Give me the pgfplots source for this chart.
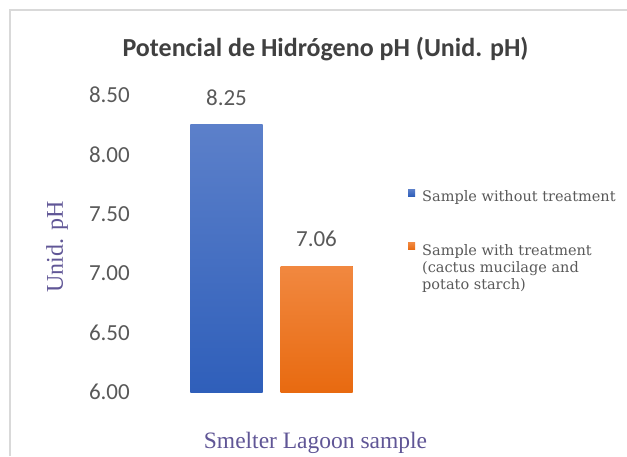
\documentclass[border=0pt]{standalone}
\usepackage{pgfplots}
\pgfplotsset{compat=1.18}
\usepackage{fontspec}
\setmainfont{Liberation Serif}
\newfontfamily\carlito{Carlito}
\newfontfamily\dejaserif{DejaVu Serif}

\definecolor{titlegray}{RGB}{64,64,64}
\definecolor{tickgray}{RGB}{89,89,89}
\definecolor{labelpurple}{RGB}{96,86,150}
\definecolor{framegray}{RGB}{217,217,217}
\definecolor{blueTop}{RGB}{92,128,202}
\definecolor{blueBot}{RGB}{47,95,186}
\definecolor{orTop}{RGB}{241,136,64}
\definecolor{orBot}{RGB}{232,106,16}

\begin{document}
\begin{tikzpicture}[x=1pt,y=1pt]
\path[use as bounding box] (0,0) rectangle (627,456);
\draw[framegray, line width=1.2pt] (10,0) -- (10,446) -- (627,446);

\begin{axis}[
  at={(140pt,64pt)}, anchor=south west,
  scale only axis, width=263pt, height=309pt,
  xmin=-1, xmax=1, ymin=6, ymax=8.6,
  ybar=18pt, bar width=72pt,
  xtick=\empty,
  ytick={6,6.5,7,7.5,8,8.5},
  axis line style={draw=none},
  tick style={draw=none},
  /pgf/number format/assume math mode=true,
  yticklabel style={font=\carlito\fontsize{23}{23}\selectfont, text=tickgray,
    inner sep=0pt, xshift=-10pt,
    /pgf/number format/fixed, /pgf/number format/fixed zerofill,
    /pgf/number format/precision=2},
  nodes near coords,
  every node near coord/.append style={font=\carlito\fontsize{23}{23}\selectfont,
    text=tickgray, inner sep=0pt, yshift=19pt},
  legend style={at={(1.019,0.657)}, anchor=north west, draw=none, fill=none,
    inner sep=0pt, column sep=7pt, row sep=40pt,
    font=\dejaserif\fontsize{14.5}{17}\selectfont, text=tickgray,
    nodes={inner sep=0pt}},
  legend cell align=left,
]
\addplot[draw=none, fill=blueBot, top color=blueTop, bottom color=blueBot,
  legend image code/.code={\fill[blueBot] (0pt,0.3pt) rectangle (7pt,7.3pt);}]
  coordinates {(0,8.25)};
\addlegendentry{Sample without treatment}
\addplot[draw=none, fill=orBot, top color=orTop, bottom color=orBot,
  legend image code/.code={\fill[orTop] (0pt,0.3pt) rectangle (7pt,7.3pt);}]
  coordinates {(0,7.06)};
\addlegendentry{\begin{tabular}[t]{@{}l@{}}Sample with treatment\\(cactus mucilage and\\potato starch)\end{tabular}}
\end{axis}

\node[anchor=base, font=\carlito\bfseries\fontsize{26}{26}\selectfont, text=titlegray]
  at (325.5,399) {Potencial de Hidrógeno pH (Unid. pH)};
\node[rotate=90, font=\fontsize{24}{24}\selectfont, text=labelpurple]
  at (57,209) {Unid. pH};
\node[anchor=base, font=\fontsize{23.5}{24}\selectfont, text=labelpurple]
  at (315.5,8) {Smelter Lagoon sample};
\end{tikzpicture}
\end{document}
